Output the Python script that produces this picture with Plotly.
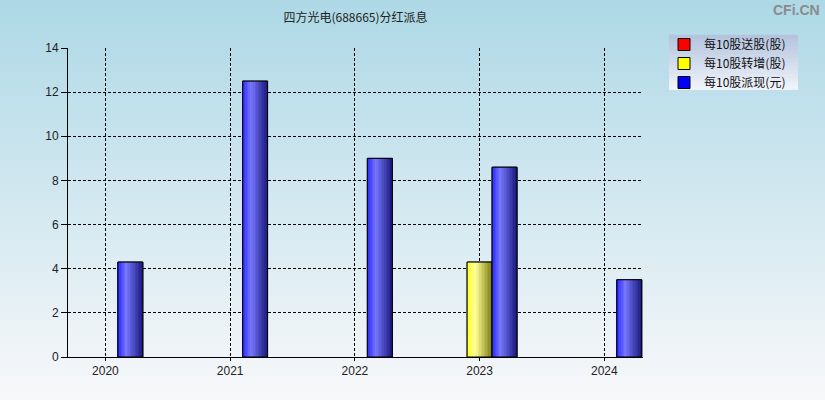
import plotly.graph_objects as go

# ---- data ----
years = ["2020", "2021", "2022", "2023", "2024"]
song_gu = [0, 0, 0, 0, 0]            # 每10股送股(股)
zhuan_zeng = [0, 0, 0, 4.3, 0]       # 每10股转增(股)
pai_xian = [4.3, 12.5, 9.0, 8.6, 3.5]  # 每10股派现(元)
series_names = ["每10股送股(股)", "每10股转增(股)", "每10股派现(元)"]
y_ticks = [0, 2, 4, 6, 8, 10, 12, 14]

W, H = 825, 400
ML, MR, MT, MB = 68, 182, 48, 43
PW, PH = W - ML - MR, H - MT - MB

def px_x(p):
    return (p - ML) / PW

def px_y(p):
    return (H - MB - p) / PH

def lerp(c1, c2, t):
    return tuple(round(a + (b - a) * t) for a, b in zip(c1, c2))

def rgb(c):
    return "rgb(%d,%d,%d)" % c

fig = go.Figure()

BAR_W = 0.2
offsets = [-0.3, -0.1, 0.1]
base_colors = ["#ff0000", "#ffff00", "#0000ff"]
# gradient stops per series (left, highlight, right)
grad = [
    [(255, 30, 30), (255, 140, 140), (130, 10, 10)],
    [(255, 255, 30), (255, 255, 150), (128, 128, 20)],
    [(35, 35, 255), (120, 120, 255), (25, 25, 125)],
]
data_series = [song_gu, zhuan_zeng, pai_xian]

N = 16
for s, vals in enumerate(data_series):
    yv = [v if v > 0 else None for v in vals]
    # legend / base trace
    fig.add_trace(go.Bar(
        x=years, y=yv, name=series_names[s], width=BAR_W, offset=offsets[s],
        marker=dict(color=base_colors[s], line=dict(color="black", width=1)),
        showlegend=True, hoverinfo="skip", cliponaxis=False,
    ))
    # gradient stripes
    for i in range(N):
        t = (i + 0.5) / N
        lo, hi, rt = grad[s]
        if t < 0.35:
            c = lerp(lo, hi, t / 0.35)
        else:
            c = lerp(hi, rt, (t - 0.35) / 0.65)
        fig.add_trace(go.Bar(
            x=years, y=yv, width=BAR_W / N, offset=offsets[s] + i * BAR_W / N,
            marker=dict(color=rgb(c), line=dict(width=0)),
            showlegend=False, hoverinfo="skip", cliponaxis=False,
        ))
    # outline
    fig.add_trace(go.Bar(
        x=years, y=yv, width=BAR_W, offset=offsets[s],
        marker=dict(color="rgba(0,0,0,0)", line=dict(color="black", width=1)),
        showlegend=False, hoverinfo="skip", cliponaxis=False,
    ))

# background gradient
shapes = []
bands = 50
top_c, bot_c = (173, 216, 230), (248, 248, 250)
for i in range(bands):
    y0p = H * i / bands
    y1p = H * (i + 1) / bands
    c = lerp(top_c, bot_c, (i + 0.5) / bands)
    shapes.append(dict(type="rect", xref="paper", yref="paper",
                       x0=px_x(0), x1=px_x(W), y0=px_y(y1p), y1=px_y(y0p) + 0.002,
                       fillcolor=rgb(c), line=dict(width=0), layer="below"))
# legend background gradient
lx0, lx1, ly0, ly1 = 669, 798, 35, 90
lb = 14
for i in range(lb):
    y0p = ly0 + (ly1 - ly0) * i / lb
    y1p = ly0 + (ly1 - ly0) * (i + 1) / lb
    c = lerp((178, 194, 222), (242, 244, 250), (i + 0.5) / lb)
    shapes.append(dict(type="rect", xref="paper", yref="paper",
                       x0=px_x(lx0), x1=px_x(lx1), y0=px_y(y1p), y1=px_y(y0p) + 0.001,
                       fillcolor=rgb(c), line=dict(width=0), layer="below"))

fig.update_layout(
    width=W, height=H,
    margin=dict(l=ML, r=MR, t=MT, b=MB, pad=0),
    paper_bgcolor="rgba(0,0,0,0)", plot_bgcolor="rgba(0,0,0,0)",
    barmode="overlay",
    font=dict(family="Liberation Sans, Noto Sans CJK SC, sans-serif", size=12, color="#222"),
    title=dict(text="四方光电(688665)分红派息", x=0.5, xref="paper", xanchor="center",
               y=1 - 18 / H, yanchor="middle",
               font=dict(family="Noto Sans CJK SC, sans-serif", size=12, color="#222")),
    shapes=shapes,
    showlegend=True,
    legend=dict(x=px_x(664), y=px_y(30), xanchor="left", yanchor="top",
                bgcolor="rgba(0,0,0,0)", borderwidth=0, tracegroupgap=0,
                font=dict(family="Noto Sans CJK SC, sans-serif", size=12, color="#111"),
                itemwidth=30),
    xaxis=dict(type="category", range=[-0.3, 4.31], showgrid=True,
               gridcolor="black", griddash="3px,2px", gridwidth=1,
               showline=True, linecolor="black", linewidth=1,
               ticks="outside", ticklen=3, tickcolor="black",
               tickfont=dict(size=12), zeroline=False),
    yaxis=dict(range=[0, 14], tickvals=y_ticks, showgrid=True,
               gridcolor="black", griddash="3px,2px", gridwidth=1,
               showline=True, linecolor="black", linewidth=1,
               ticks="outside", ticklen=6, tickcolor="black",
               tickfont=dict(size=12), zeroline=False),
    annotations=[dict(text="<b>CFi.CN</b>", xref="paper", yref="paper",
                      x=px_x(822), y=px_y(10), xanchor="right", yanchor="middle",
                      showarrow=False, font=dict(size=14, color="#8a8a8a",
                                                 family="Liberation Sans, sans-serif"))],
)

fig.write_html("out.html", config={"displayModeBar": False},
               post_script="document.body.style.margin='0';document.body.style.padding='0';")
